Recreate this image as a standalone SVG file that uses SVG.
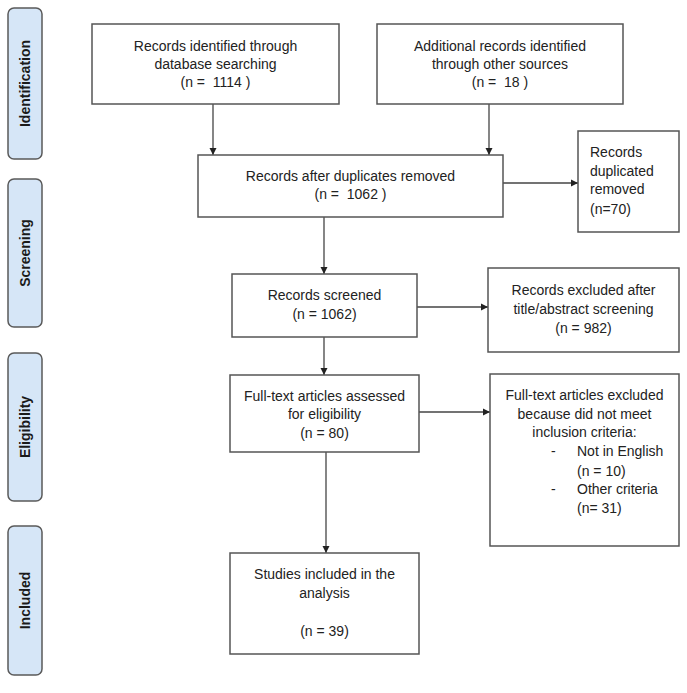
<svg xmlns="http://www.w3.org/2000/svg" width="687" height="693" viewBox="0 0 687 693">
<style>
.bg{fill:#ffffff}
.box{fill:#ffffff;stroke:#555555;stroke-width:1.5}
.side{fill:#d6e6f7;stroke:#5a5a5a;stroke-width:1.5}
.t{font-family:"Liberation Sans",Arial,sans-serif;font-size:14px;fill:#222222;text-anchor:middle}
.tl{font-family:"Liberation Sans",Arial,sans-serif;font-size:14px;fill:#222222}
.st{font-family:"Liberation Sans",Arial,sans-serif;font-size:14px;font-weight:bold;fill:#1a1a1a;text-anchor:middle}
.c{stroke:#444444;stroke-width:1.3;fill:none;marker-end:url(#ah)}
</style>
<defs>
<marker id="ah" markerWidth="8" markerHeight="8" refX="7" refY="4" orient="auto" markerUnits="userSpaceOnUse">
<path d="M0,0.5 L7,4 L0,7.5 Z" fill="#222222"/>
</marker>
</defs>
<rect class="bg" x="0" y="0" width="687" height="693"/>

<g id="label-identification">
<rect class="side" x="8" y="8" width="34" height="151" rx="6"/>
<text class="st" transform="translate(30,83.5) rotate(-90)">Identification</text>
</g>
<g id="label-screening">
<rect class="side" x="8" y="179" width="34" height="148" rx="6"/>
<text class="st" transform="translate(30,253) rotate(-90)">Screening</text>
</g>
<g id="label-eligibility">
<rect class="side" x="8" y="353" width="34" height="148" rx="6"/>
<text class="st" transform="translate(30,427) rotate(-90)">Eligibility</text>
</g>
<g id="label-included">
<rect class="side" x="8" y="526" width="34" height="149" rx="6"/>
<text class="st" transform="translate(30,600.5) rotate(-90)">Included</text>
</g>

<g id="connectors">
<line class="c" x1="213" y1="104" x2="213" y2="155"/>
<line class="c" x1="489" y1="104" x2="489" y2="155"/>
<line class="c" x1="503" y1="183" x2="578" y2="183"/>
<line class="c" x1="324" y1="217" x2="324" y2="274"/>
<line class="c" x1="417" y1="307" x2="488" y2="307"/>
<line class="c" x1="324" y1="337" x2="324" y2="375"/>
<line class="c" x1="419" y1="412" x2="490" y2="412"/>
<line class="c" x1="326" y1="452" x2="326" y2="553"/>
</g>

<g id="db-search">
<rect class="box" x="92" y="24" width="247" height="80"/>
<text class="t" x="215.5" y="51">Records identified through</text>
<text class="t" x="215.5" y="69">database searching</text>
<text class="t" x="215.5" y="87" xml:space="preserve">(n =  1114 )</text>
</g>
<g id="other-sources">
<rect class="box" x="377" y="24" width="246" height="80"/>
<text class="t" x="500" y="51">Additional records identified</text>
<text class="t" x="500" y="69">through other sources</text>
<text class="t" x="500" y="87" xml:space="preserve">(n =  18 )</text>
</g>
<g id="after-duplicates">
<rect class="box" x="198" y="155" width="305" height="62"/>
<text class="t" x="350.5" y="181">Records after duplicates removed</text>
<text class="t" x="350.5" y="199" xml:space="preserve">(n =  1062 )</text>
</g>
<g id="duplicates-removed">
<rect class="box" x="578" y="131" width="101" height="101"/>
<text class="tl" x="590" y="157">Records</text>
<text class="tl" x="590" y="176">duplicated</text>
<text class="tl" x="590" y="194">removed</text>
<text class="tl" x="590" y="214">(n=70)</text>
</g>
<g id="screened">
<rect class="box" x="232" y="274" width="185" height="63"/>
<text class="t" x="324.5" y="300">Records screened</text>
<text class="t" x="324.5" y="319">(n = 1062)</text>
</g>
<g id="excluded-title">
<rect class="box" x="488" y="268" width="191" height="84"/>
<text class="t" x="583.5" y="295">Records excluded after</text>
<text class="t" x="583.5" y="314">title/abstract screening</text>
<text class="t" x="583.5" y="333">(n = 982)</text>
</g>
<g id="fulltext-assessed">
<rect class="box" x="230" y="375" width="189" height="77"/>
<text class="t" x="324.5" y="401">Full-text articles assessed</text>
<text class="t" x="324.5" y="419">for eligibility</text>
<text class="t" x="324.5" y="438">(n = 80)</text>
</g>
<g id="fulltext-excluded">
<rect class="box" x="490" y="374" width="189" height="172"/>
<text class="t" x="584.5" y="400">Full-text articles excluded</text>
<text class="t" x="584.5" y="419">because did not meet</text>
<text class="t" x="584.5" y="437">inclusion criteria:</text>
<text class="tl" x="551" y="456">-</text>
<text class="tl" x="577" y="456">Not in English</text>
<text class="tl" x="577" y="476">(n = 10)</text>
<text class="tl" x="551" y="494">-</text>
<text class="tl" x="577" y="494">Other criteria</text>
<text class="tl" x="577" y="513">(n= 31)</text>
</g>
<g id="included">
<rect class="box" x="230" y="553" width="189" height="101"/>
<text class="t" x="324.5" y="579">Studies included in the</text>
<text class="t" x="324.5" y="598">analysis</text>
<text class="t" x="324.5" y="636">(n = 39)</text>
</g>
</svg>
